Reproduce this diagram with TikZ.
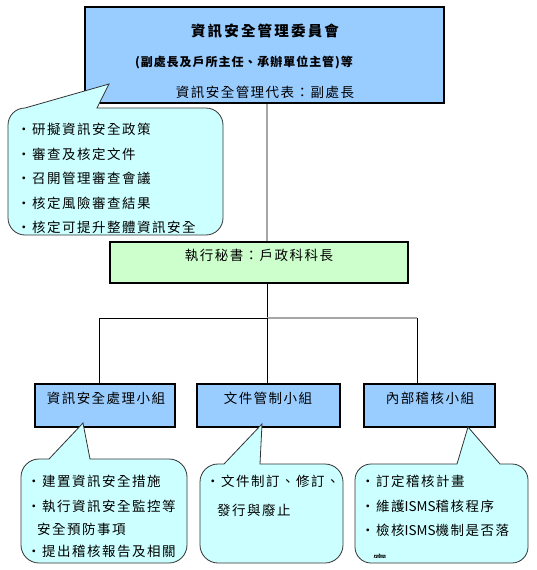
\documentclass[tikz,border=0pt]{standalone}
\usepackage{fontspec}
\newfontfamily\cjk[LetterSpace=11]{Noto Sans CJK TC}
\definecolor{boxblue}{HTML}{99CCFF}
\definecolor{secgreen}{HTML}{CCFFCC}
\definecolor{callcyan}{HTML}{CCFFFF}
\definecolor{linegray}{HTML}{A6A6A6}
\newcommand\tightlat[1]{{\addfontfeature{LetterSpace=0}#1}}
\tikzset{
  bluebox/.style={draw=black, line width=1.1pt, fill=boxblue, inner sep=0pt},
  greenbox/.style={draw=black, line width=1.1pt, fill=secgreen, inner sep=0pt},
  calloutshape/.style={draw=black!80, line width=0.8pt, fill=callcyan},
  conn/.style={draw=black, line width=0.9pt},
  connGray/.style={draw=linegray, line width=1.6pt},
  txt/.style={inner sep=0pt, font=\cjk\fontsize{13.5}{14}\selectfont},
  ltxt/.style={txt, anchor=west},
}
% x1 y1 x2 y2 r baseL baseR tipx tipy
\newcommand\mycallout[9]{%
  \filldraw[calloutshape] (#7,#2) -- (#3-#5,#2)
    .. controls (#3-0.45*#5,#2) and (#3,#2+0.45*#5) .. (#3,#2+#5)
    -- (#3,#4-#5)
    .. controls (#3,#4-0.45*#5) and (#3-0.45*#5,#4) .. (#3-#5,#4)
    -- (#1+#5,#4)
    .. controls (#1+0.45*#5,#4) and (#1,#4-0.45*#5) .. (#1,#4-#5)
    -- (#1,#2+#5)
    .. controls (#1,#2+0.45*#5) and (#1+0.45*#5,#2) .. (#1+#5,#2)
    -- (#6,#2) -- (#8,#9) -- cycle;}
\begin{document}
\begin{tikzpicture}[x=1pt,y=-1pt]
\useasboundingbox (0,0) rectangle (537,570);
% boxes
\node[bluebox, minimum width=359pt, minimum height=96pt] (top) at (264.5,55) {};
\node[greenbox, minimum width=298pt, minimum height=41pt] (sec) at (259,262.5) {};
\node[bluebox, minimum width=140pt, minimum height=43pt] (b1) at (105,405.5) {};
\node[bluebox, minimum width=143pt, minimum height=43pt] (b2) at (268.5,405.5) {};
\node[bluebox, minimum width=131pt, minimum height=43pt] (b3) at (429.5,405.5) {};
% connectors
\coordinate (j) at (267,318);
\coordinate (jl) at (99,318);
\coordinate (jr) at (417,318);
\draw[connGray, line width=1.1pt] (top.south -| j) -- (sec.north -| j);
\draw[conn] (sec.south -| j) -- (j);
\draw[conn] (jl) -- (j);
\draw[connGray] (j) -- (jr);
\draw[conn] (jl) -- (jl |- b1.north);
\draw[conn] (j) -- (j |- b2.north);
\draw[conn] (jr) -- (jr |- b3.north);
% top box text
\node[txt, font=\cjk\addfontfeature{LetterSpace=15}\bfseries\fontsize{14.5}{15}\selectfont] (t1) at (265,31) {資訊安全管理委員會};
\node[txt, font=\cjk\addfontfeature{LetterSpace=8}\bfseries\fontsize{12}{12}\selectfont] (t2) at (244,62) {(副處長及戶所主任、承辦單位主管)等};
\node[txt] (t3) at (265,92) {資訊安全管理代表：副處長};
\node[txt] (st) at (259,255) {執行秘書：戶政科科長};
\node[txt] (l1) at (106,398) {資訊安全處理小組};
\node[txt] (l2) at (268,398) {文件管制小組};
\node[txt] (l3) at (430,398) {內部稽核小組};
% callouts
\mycallout{8}{108}{223}{235}{17}{25}{97}{109}{84}
\mycallout{21}{459}{187}{563}{18}{49}{90}{83}{423}
\mycallout{200}{464}{343}{563}{18}{224}{260}{262}{424}
\mycallout{355}{464}{528}{563}{16}{457}{500}{468}{427}
% top callout text
\node[ltxt] (c1a) at (17,129) {•研擬資訊安全政策};
\node[ltxt] (c1b) at (17,154) {•審查及核定文件};
\node[ltxt] (c1c) at (17,178) {•召開管理審查會議};
\node[ltxt] (c1d) at (17,203) {•核定風險審查結果};
\node[ltxt] (c1e) at (17,227) {•核定可提升整體資訊安全};
% bottom callout 1
\node[ltxt] (d1a) at (27,481) {•建置資訊安全措施};
\node[ltxt] (d1b) at (27,506) {•執行資訊安全監控等};
\node[ltxt] (d1c) at (37,529) {安全預防事項};
\node[ltxt] (d1d) at (27,551) {•提出稽核報告及相關};
% bottom callout 2
\node[ltxt] (d2a) at (206,481) {•文件制訂、修訂、};
\node[ltxt] (d2b) at (217,510) {發行與廢止};
% bottom callout 3
\node[ltxt] (d3a) at (361,481) {•訂定稽核計畫};
\node[ltxt] (d3b) at (361,506) {•維護\tightlat{ISMS}稽核程序};
\node[ltxt] (d3c) at (361,530) {•檢核\tightlat{ISMS}機制是否落};
\begin{scope}
\clip (360,540) rectangle (400,557);
\node[ltxt] (d3d) at (373,560) {實};
\end{scope}
\end{tikzpicture}
\end{document}
